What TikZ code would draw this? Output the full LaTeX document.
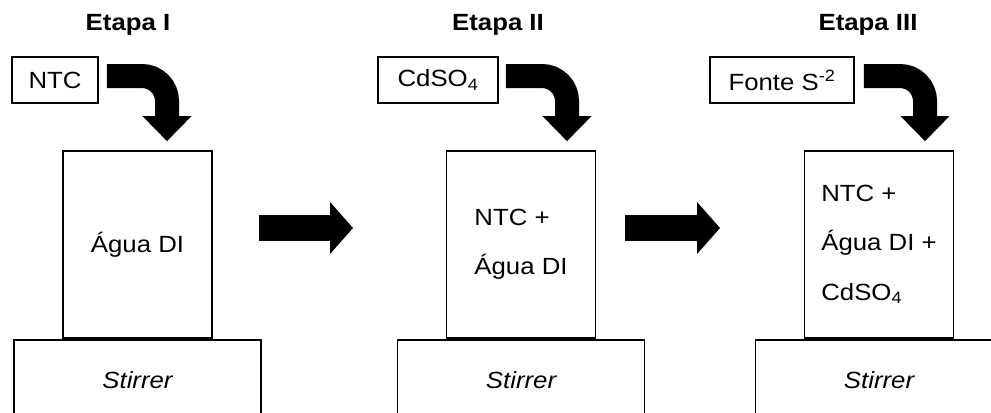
\documentclass[tikz,border=0pt]{standalone}
\usepackage{fontspec}
\setmainfont[FakeStretch=1.1]{Liberation Sans}
\usetikzlibrary{arrows.meta,positioning}

\begin{document}
\begin{tikzpicture}[
      x=0.03cm, y=-0.03cm,
      node distance=0pt,
      stagetitle/.style={font=\fontsize{20pt}{24pt}\selectfont\bfseries},
      reagent/.style={
        rectangle, draw=black, line width=1.5pt, inner sep=0pt,
        minimum height=1.38cm, font=\fontsize{20pt}{24pt}\selectfont
      },
      beaker/.style={
        rectangle, draw=black, line width=1.5pt, inner sep=0pt, align=left,
        minimum width=4.47cm, minimum height=5.61cm, font=\fontsize{20pt}{42pt}\selectfont
      },
      stirrer/.style={
        rectangle, draw=black, line width=1.5pt, inner sep=0pt,
        minimum width=7.41cm, minimum height=2.4cm, font=\fontsize{20pt}{24pt}\selectfont\itshape
      },
      feedarr/.style={-{Triangle[width=1.47cm, length=0.75cm, line width=0pt]}, line width=0.72cm, rounded corners=0.75cm},
      blockarr/.style={-{Triangle[width=1.56cm, length=0.69cm, line width=0pt]}, line width=0.78cm}
    ]
      \useasboundingbox (0,0) rectangle (991,412);

      % stage titles
      \node[stagetitle] (t1) at (128,25) {Etapa I};
      \node[stagetitle] (t2) at (498,25) {Etapa II};
      \node[stagetitle] (t3) at (868,25) {Etapa III};

      % beakers on stirrers
      \node[beaker] (b1) at (137.5,244.5) {Água DI};
      \node[beaker] (b2) at (521,244.5) {NTC +\\Água DI};
      \node[beaker] (b3) at (879,244.5) {NTC +\\Água DI +\\CdSO\textsubscript{4}};
      \node[stirrer, below=of b1] (s1) {Stirrer};
      \node[stirrer, below=of b2] (s2) {Stirrer};
      \node[stirrer, below=of b3] (s3) {Stirrer};

      % added reagents
      \node[reagent, minimum width=2.58cm] (ntc) at (55,80) {NTC};
      \node[reagent, minimum width=3.6cm] (cds) at (438,80) {CdSO\textsubscript{4}};
      \node[reagent, minimum width=4.32cm] (fonte) at (782,80) {Fonte S\textsuperscript{-2}};

      \coordinate (in1) at ([shift={(29.5,-9)}]b1.north);
      \coordinate (in2) at ([shift={(46,-9)}]b2.north);
      \coordinate (in3) at ([shift={(46,-9)}]b3.north);
      \draw[feedarr] ([shift={(8,-4)}]ntc.east) -| (in1);
      \draw[feedarr] ([shift={(7,-4)}]cds.east) -| (in2);
      \draw[feedarr] ([shift={(9,-4)}]fonte.east) -| (in3);

      % next stage
      \coordinate (a1s) at (259,228);
      \coordinate (a1e) at (353,228);
      \coordinate (a2s) at (625,228);
      \coordinate (a2e) at (720,228);
      \draw[blockarr] (a1s) -- (a1e);
      \draw[blockarr] (a2s) -- (a2e);
    \end{tikzpicture}
\end{document}
